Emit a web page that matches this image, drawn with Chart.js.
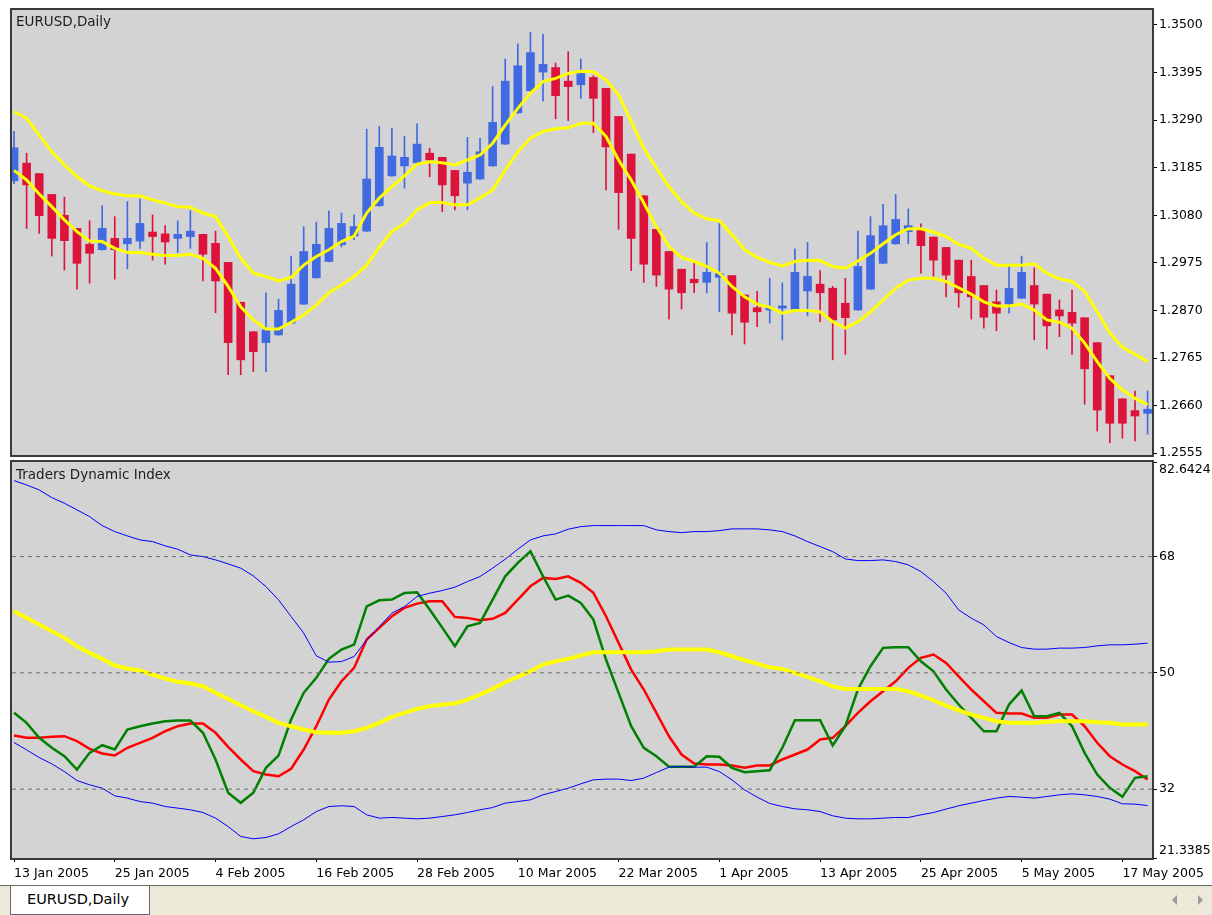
<!DOCTYPE html>
<html>
<head>
<meta charset="utf-8">
<title>EURUSD,Daily - Traders Dynamic Index</title>
<script src="https://cdn.jsdelivr.net/npm/chart.js@4.4.1/dist/chart.umd.min.js"></script>
<style>
  body { margin: 0; background: #fff; width: 1212px; height: 915px; overflow: hidden; position: relative; font-family: "DejaVu Sans", sans-serif; }
  canvas { position: absolute; left: 0; }
  #priceCanvas { top: 0; }
  #tdiCanvas { top: 458px; }
  .panel-title { position: absolute; left: 16px; font-size: 13.5px; color: #202020; }
  #tabBar { position: absolute; left: 0; top: 885px; width: 1212px; height: 30px; background: #ece9d8; border-top: 1px solid #6b6b6b; box-sizing: border-box; }
  #tab { position: absolute; left: 10px; top: 0; width: 140px; height: 29px; background: #fff; border: 1px solid #6b6b6b; border-top: none; box-sizing: border-box; font-size: 14.5px; line-height: 27px; padding-left: 16px; color: #000; }
  .arrow { position: absolute; top: 9px; width: 0; height: 0; border-top: 5px solid transparent; border-bottom: 5px solid transparent; }
  #arrowL { left: 1172px; border-right: 5px solid #9a9a9a; }
  #arrowR { left: 1198px; border-left: 5px solid #9a9a9a; }
</style>
</head>
<body>
<canvas id="priceCanvas" width="1212" height="458"></canvas>
<canvas id="tdiCanvas" width="1212" height="430"></canvas>
<div class="panel-title" style="top:13px;">EURUSD,Daily</div>
<div class="panel-title" style="top:466px;">Traders Dynamic Index</div>
<div id="tabBar"><div id="tab">EURUSD,Daily</div><div class="arrow" id="arrowL"></div><div class="arrow" id="arrowR"></div></div>
<script>
// one label every 8 daily bars, starting at the first bar (13 Jan 2005)
const dateLabels = ['13 Jan 2005', '25 Jan 2005', '4 Feb 2005', '16 Feb 2005', '28 Feb 2005', '10 Mar 2005',
  '22 Mar 2005', '1 Apr 2005', '13 Apr 2005', '25 Apr 2005', '5 May 2005', '17 May 2005'];
const barsPerLabel = 8;

const priceTicks = [1.2555, 1.2660, 1.2765, 1.2870, 1.2975, 1.3080, 1.3185, 1.3290, 1.3395, 1.3500];
const tdiTicks = [21.3385, 32, 50, 68, 82.6424];
const tdiLevels = [32, 50, 68];

const opens = [1.3156, 1.3195, 1.3172, 1.3126, 1.3080, 1.3051, 1.3016, 1.3004, 1.3029, 1.3017,
  1.3023, 1.3043, 1.3039, 1.3029, 1.3033, 1.3038, 1.3018, 1.2976, 1.2888, 1.2823,
  1.2799, 1.2816, 1.2842, 1.2884, 1.2942, 1.2978, 1.3015, 1.3034, 1.3045, 1.3101,
  1.3167, 1.3189, 1.3196, 1.3217, 1.3208, 1.3179, 1.3151, 1.3160, 1.3189, 1.3237,
  1.3306, 1.3355, 1.3396, 1.3406, 1.3376, 1.3368, 1.3384, 1.3360, 1.3298, 1.3215,
  1.3123, 1.3049, 1.3000, 1.2961, 1.2939, 1.2932, 1.2943, 1.2947, 1.2904, 1.2876,
  1.2871, 1.2875, 1.2873, 1.2913, 1.2928, 1.2919, 1.2886, 1.2871, 1.2917, 1.2974,
  1.3017, 1.3044, 1.3049, 1.3032, 1.3009, 1.2981, 1.2945, 1.2925, 1.2889, 1.2884,
  1.2897, 1.2925, 1.2906, 1.2871, 1.2866, 1.2854, 1.2799, 1.2726, 1.2675, 1.2649, 1.2643];
const highs = [1.3265, 1.3217, 1.3172, 1.3126, 1.3120, 1.3051, 1.3068, 1.3101, 1.3077, 1.3110,
  1.3116, 1.3081, 1.3057, 1.3068, 1.3090, 1.3038, 1.3045, 1.2976, 1.2888, 1.2823,
  1.2909, 1.2895, 1.2990, 1.3055, 1.3065, 1.3090, 1.3085, 1.3081, 1.3270, 1.3276,
  1.3272, 1.3254, 1.3282, 1.3228, 1.3208, 1.3179, 1.3252, 1.3250, 1.3364, 1.3425,
  1.3458, 1.3484, 1.3480, 1.3416, 1.3441, 1.3425, 1.3388, 1.3360, 1.3298, 1.3215,
  1.3123, 1.3049, 1.3000, 1.2961, 1.2976, 1.3020, 1.3062, 1.2947, 1.2904, 1.2912,
  1.2941, 1.2931, 1.3006, 1.3020, 1.2958, 1.2923, 1.2941, 1.3045, 1.3077, 1.3104,
  1.3126, 1.3094, 1.3061, 1.3032, 1.3009, 1.2981, 1.2981, 1.2925, 1.2915, 1.2968,
  1.2990, 1.2964, 1.2906, 1.2893, 1.2915, 1.2854, 1.2799, 1.2726, 1.2675, 1.2692, 1.2692];
const lows = [1.3150, 1.3051, 1.3040, 1.2990, 1.2959, 1.2917, 1.2930, 1.3003, 1.2939, 1.2962,
  1.3007, 1.2981, 1.2972, 1.2998, 1.3007, 1.2935, 1.2865, 1.2728, 1.2728, 1.2735,
  1.2735, 1.2815, 1.2841, 1.2883, 1.2941, 1.2977, 1.3010, 1.3026, 1.3044, 1.3100,
  1.3166, 1.3140, 1.3195, 1.3165, 1.3088, 1.3092, 1.3092, 1.3159, 1.3188, 1.3236,
  1.3305, 1.3354, 1.3332, 1.3293, 1.3289, 1.3338, 1.3262, 1.3136, 1.3049, 1.2958,
  1.2932, 1.2923, 1.2851, 1.2873, 1.2909, 1.2909, 1.2867, 1.2816, 1.2796, 1.2834,
  1.2842, 1.2805, 1.2872, 1.2858, 1.2845, 1.2761, 1.2773, 1.2870, 1.2916, 1.2973,
  1.3016, 1.3017, 1.2952, 1.2945, 1.2900, 1.2877, 1.2851, 1.2831, 1.2825, 1.2864,
  1.2896, 1.2805, 1.2785, 1.2812, 1.2773, 1.2663, 1.2604, 1.2578, 1.2588, 1.2582, 1.2597];
const closes = [1.3229, 1.3147, 1.3079, 1.3029, 1.3024, 1.2974, 1.2996, 1.3051, 1.3004, 1.3029,
  1.3062, 1.3033, 1.3021, 1.3038, 1.3045, 1.2994, 1.2935, 1.2799, 1.2761, 1.2779,
  1.2827, 1.2870, 1.2928, 1.3000, 1.3016, 1.3051, 1.3062, 1.3055, 1.3160, 1.3230,
  1.3211, 1.3208, 1.3237, 1.3202, 1.3147, 1.3123, 1.3175, 1.3220, 1.3285, 1.3376,
  1.3410, 1.3439, 1.3413, 1.3344, 1.3364, 1.3393, 1.3338, 1.3231, 1.3130, 1.3029,
  1.2972, 1.2948, 1.2917, 1.2909, 1.2931, 1.2954, 1.2951, 1.2864, 1.2844, 1.2867,
  1.2877, 1.2880, 1.2954, 1.2945, 1.2909, 1.2849, 1.2854, 1.2967, 1.3035, 1.3057,
  1.3071, 1.3057, 1.3013, 1.2981, 1.2948, 1.2909, 1.2900, 1.2855, 1.2864, 1.2919,
  1.2954, 1.2884, 1.2836, 1.2858, 1.2842, 1.2741, 1.2650, 1.2621, 1.2621, 1.2637, 1.2652];

// yellow envelope on the price panel
const bandUpper = [1.3309, 1.3294, 1.3257, 1.3220, 1.3191, 1.3165, 1.3145, 1.3134, 1.3127, 1.3123,
  1.3123, 1.3114, 1.3107, 1.3099, 1.3098, 1.3085, 1.3077, 1.3033, 1.2985, 1.2952,
  1.2945, 1.2935, 1.2943, 1.2970, 1.2989, 1.3004, 1.3022, 1.3034, 1.3085, 1.3118,
  1.3143, 1.3167, 1.3193, 1.3198, 1.3196, 1.3191, 1.3202, 1.3213, 1.3239, 1.3279,
  1.3316, 1.3349, 1.3375, 1.3382, 1.3393, 1.3398, 1.3397, 1.3379, 1.3346, 1.3287,
  1.3228, 1.3184, 1.3143, 1.3110, 1.3085, 1.3072, 1.3068, 1.3037, 1.3004, 1.2987,
  1.2976, 1.2968, 1.2978, 1.2981, 1.2980, 1.2967, 1.2963, 1.2979, 1.2996, 1.3017,
  1.3037, 1.3050, 1.3050, 1.3043, 1.3033, 1.3016, 1.3007, 1.2985, 1.2970, 1.2970,
  1.2970, 1.2973, 1.2952, 1.2940, 1.2934, 1.2912, 1.2867, 1.2820, 1.2789, 1.2773, 1.2757];
const bandLower = [1.3179, 1.3158, 1.3127, 1.3099, 1.3070, 1.3044, 1.3023, 1.3022, 1.3007, 1.2998,
  1.2998, 1.2994, 1.2991, 1.2991, 1.2994, 1.2985, 1.2963, 1.2923, 1.2878, 1.2849,
  1.2829, 1.2829, 1.2844, 1.2860, 1.2882, 1.2909, 1.2926, 1.2945, 1.2970, 1.3010,
  1.3044, 1.3062, 1.3092, 1.3108, 1.3108, 1.3103, 1.3103, 1.3118, 1.3136, 1.3180,
  1.3220, 1.3250, 1.3265, 1.3271, 1.3273, 1.3283, 1.3283, 1.3254, 1.3202, 1.3158,
  1.3107, 1.3055, 1.3011, 1.2987, 1.2978, 1.2967, 1.2952, 1.2923, 1.2900, 1.2884,
  1.2877, 1.2864, 1.2870, 1.2870, 1.2867, 1.2845, 1.2831, 1.2845, 1.2867, 1.2893,
  1.2919, 1.2937, 1.2941, 1.2941, 1.2934, 1.2920, 1.2906, 1.2889, 1.2880, 1.2880,
  1.2884, 1.2871, 1.2849, 1.2844, 1.2831, 1.2798, 1.2757, 1.2720, 1.2695, 1.2676, 1.2662];

// Traders Dynamic Index lines
const tdiUpper = [79.76, 79.09, 78.32, 77.13, 76.26, 75.23, 74.19, 72.80, 71.87, 71.20,
  70.58, 70.32, 69.66, 69.14, 68.26, 68.00, 67.49, 66.87, 66.21, 65.01,
  63.36, 61.30, 58.72, 56.15, 52.64, 51.66, 51.75, 52.53, 55.11, 57.17,
  59.24, 60.26, 61.81, 62.34, 62.74, 63.27, 64.13, 64.91, 66.21, 67.60,
  69.14, 70.58, 71.20, 71.51, 72.24, 72.64, 72.80, 72.80, 72.80, 72.80,
  72.80, 72.13, 71.87, 71.71, 71.87, 71.87, 72.02, 72.29, 72.29, 72.29,
  72.13, 71.87, 71.20, 70.32, 69.55, 68.77, 67.64, 67.38, 67.38, 67.49,
  67.23, 66.72, 65.68, 64.13, 62.34, 59.75, 58.47, 57.43, 55.62, 54.69,
  53.92, 53.67, 53.67, 53.83, 53.83, 53.92, 54.18, 54.34, 54.34, 54.44, 54.60];
const tdiLower = [39.21, 38.08, 36.89, 35.91, 34.72, 33.33, 32.67, 32.15, 30.96, 30.61,
  30.08, 29.83, 29.31, 29.06, 28.80, 28.38, 27.51, 26.21, 24.67, 24.31,
  24.51, 25.08, 26.21, 27.25, 28.53, 29.31, 29.42, 29.31, 28.02, 27.51,
  27.61, 27.51, 27.40, 27.51, 27.76, 28.02, 28.38, 28.80, 29.15, 29.83,
  30.08, 30.34, 31.12, 31.63, 32.15, 32.82, 33.44, 33.55, 33.55, 33.33,
  33.70, 34.57, 35.40, 35.50, 35.40, 35.40, 34.72, 33.44, 31.89, 30.76,
  29.78, 29.31, 28.95, 28.80, 28.53, 27.87, 27.51, 27.40, 27.40, 27.51,
  27.61, 27.61, 28.02, 28.38, 28.91, 29.42, 29.83, 30.24, 30.61, 30.86,
  30.76, 30.61, 30.86, 31.12, 31.27, 31.12, 30.86, 30.45, 29.73, 29.68, 29.46];
const tdiMid = [59.53, 58.51, 57.47, 56.44, 55.42, 54.12, 53.09, 52.17, 51.13, 50.67,
  50.36, 49.74, 49.12, 48.61, 48.34, 47.93, 46.91, 45.98, 44.99, 44.06,
  43.19, 42.26, 41.74, 41.23, 40.81, 40.72, 40.72, 40.96, 41.49, 42.26,
  43.19, 43.81, 44.43, 44.83, 45.09, 45.25, 45.86, 46.64, 47.52, 48.55,
  49.38, 50.25, 51.28, 51.79, 52.17, 52.68, 53.19, 53.19, 53.19, 53.19,
  53.19, 53.34, 53.61, 53.61, 53.61, 53.61, 53.19, 52.57, 51.95, 51.44,
  50.85, 50.62, 50.00, 49.38, 48.70, 47.93, 47.52, 47.52, 47.52, 47.52,
  47.52, 47.15, 46.49, 45.76, 44.94, 44.21, 43.55, 43.04, 42.51, 42.26,
  42.26, 42.26, 42.42, 42.51, 42.51, 42.51, 42.36, 42.26, 42.00, 42.00, 42.00];
const rsiPrice = [43.81, 42.26, 39.94, 38.40, 37.10, 35.04, 37.62, 38.80, 38.13, 41.23,
  41.74, 42.16, 42.51, 42.62, 42.62, 40.72, 36.59, 31.43, 29.88, 31.43,
  35.30, 37.20, 42.77, 46.91, 49.23, 52.17, 53.61, 54.38, 60.30, 61.23,
  61.34, 62.38, 62.47, 59.80, 57.00, 54.12, 57.21, 57.74, 61.34, 64.95,
  67.02, 68.81, 64.95, 61.34, 61.96, 60.83, 58.25, 52.06, 46.91, 41.74,
  38.40, 37.10, 35.46, 35.46, 35.46, 37.10, 37.00, 35.30, 34.62, 34.77,
  34.93, 38.40, 42.67, 42.67, 42.67, 38.75, 41.74, 47.42, 51.02, 53.87,
  53.96, 53.96, 51.79, 50.25, 47.42, 45.10, 43.04, 40.96, 40.96, 45.10,
  47.26, 43.29, 43.29, 43.81, 41.74, 37.62, 34.26, 32.20, 30.81, 33.75, 34.00];
const tradeSignal = [40.30, 39.94, 39.94, 40.10, 40.20, 39.42, 38.24, 37.51, 37.20, 38.40,
  39.17, 39.94, 40.96, 41.74, 42.16, 42.16, 40.72, 38.55, 36.59, 34.78,
  34.26, 34.00, 35.15, 38.13, 41.74, 45.87, 48.70, 50.77, 55.15, 56.96,
  58.75, 60.06, 60.72, 61.08, 61.08, 58.66, 58.51, 58.14, 58.36, 59.28,
  61.34, 63.40, 64.70, 64.54, 64.95, 63.93, 62.38, 58.76, 54.64, 50.51,
  47.42, 43.81, 40.19, 37.36, 35.97, 35.81, 35.81, 35.66, 35.30, 35.66,
  35.66, 36.59, 37.36, 38.13, 39.68, 39.94, 41.74, 43.81, 45.61, 47.15,
  48.70, 50.77, 52.32, 52.83, 51.55, 49.47, 47.42, 45.61, 43.81, 43.70,
  43.70, 43.04, 43.04, 43.55, 43.55, 41.74, 39.17, 37.10, 35.81, 34.78, 33.49];

// ---------------------------------------------------------------
const bullColor = '#4169e1';
const bearColor = '#dc143c';
const xMin = -0.16;
const xMax = 90.35;
const tickFont = { family: 'DejaVu Sans', size: 12.5 };

const toPoints = arr => arr.map((v, i) => ({ x: i, y: v }));
const candleColors = opens.map((o, i) => (closes[i] >= o ? bullColor : bearColor));

// grey plot background and dark frame, like the terminal window
const panelFrame = {
  id: 'panelFrame',
  beforeDraw(chart) {
    const { ctx, chartArea: a } = chart;
    ctx.save();
    ctx.fillStyle = '#d3d3d3';
    ctx.fillRect(a.left, a.top, a.right - a.left, a.bottom - a.top);
    ctx.restore();
  },
  afterDraw(chart) {
    const { ctx, chartArea: a } = chart;
    ctx.save();
    ctx.strokeStyle = '#3a3a3a';
    ctx.lineWidth = 2;
    ctx.strokeRect(a.left - 1, a.top - 1, a.right - a.left + 2, a.bottom - a.top + 2);
    ctx.restore();
  }
};

function rightAxis(min, max, ticks, label) {
  return {
    type: 'linear',
    position: 'right',
    min: min,
    max: max,
    // fixed axis width, and let end labels hang over the panel edge
    afterFit: axis => { axis.width = 60; axis.paddingTop = 0; axis.paddingBottom = 0; },
    afterBuildTicks: axis => { axis.ticks = ticks.map(v => ({ value: v })); },
    grid: { drawOnChartArea: false, drawTicks: true, tickLength: 5, color: '#000' },
    border: { display: false },
    ticks: { color: '#000', font: tickFont, padding: 2, callback: label }
  };
}

// price panel
new Chart(document.getElementById('priceCanvas'), {
  type: 'bar',
  data: {
    datasets: [
      { type: 'line', data: toPoints(bandUpper), borderColor: '#ffff00', borderWidth: 3, pointRadius: 0, tension: 0, order: 0 },
      { type: 'line', data: toPoints(bandLower), borderColor: '#ffff00', borderWidth: 3, pointRadius: 0, tension: 0, order: 0 },
      { type: 'bar', data: highs.map((h, i) => ({ x: i, y: [lows[i], h] })), backgroundColor: candleColors,
        barThickness: 1, grouped: false, borderWidth: 0, order: 2 },
      { type: 'bar', data: opens.map((o, i) => ({ x: i, y: [o, closes[i]] })), backgroundColor: candleColors,
        barThickness: 8, grouped: false, borderWidth: 0, minBarLength: 2, order: 1 }
    ]
  },
  options: {
    responsive: false,
    animation: false,
    layout: { padding: { left: 12, top: 10, right: 0, bottom: 3 } },
    plugins: { legend: { display: false }, tooltip: { enabled: false } },
    scales: {
      x: { type: 'linear', min: xMin, max: xMax, offset: false, display: false, grid: { offset: false } },
      y: rightAxis(1.2551, 1.3533, priceTicks, v => v.toFixed(4))
    }
  },
  plugins: [panelFrame]
});

// indicator panel
const levelSets = tdiLevels.map(lvl => ({
  data: [{ x: xMin, y: lvl }, { x: xMax, y: lvl }],
  borderColor: '#6e6e6e', borderWidth: 1, borderDash: [4, 4], pointRadius: 0
}));

new Chart(document.getElementById('tdiCanvas'), {
  type: 'line',
  data: {
    datasets: levelSets.concat([
      { data: toPoints(tdiMid), borderColor: '#ffff00', borderWidth: 4, pointRadius: 0, tension: 0 },
      { data: toPoints(tdiUpper), borderColor: '#0000ff', borderWidth: 1, pointRadius: 0, tension: 0 },
      { data: toPoints(tdiLower), borderColor: '#0000ff', borderWidth: 1, pointRadius: 0, tension: 0 },
      { data: toPoints(rsiPrice), borderColor: '#008000', borderWidth: 2.5, pointRadius: 0, tension: 0 },
      { data: toPoints(tradeSignal), borderColor: '#ff0000', borderWidth: 2.5, pointRadius: 0, tension: 0 }
    ])
  },
  options: {
    responsive: false,
    animation: false,
    layout: { padding: { left: 12, top: 4, right: 0, bottom: 0 } },
    plugins: { legend: { display: false }, tooltip: { enabled: false } },
    scales: {
      x: {
        type: 'linear', min: xMin, max: xMax, offset: false,
        afterFit: axis => { axis.height = 30; axis.paddingLeft = 0; axis.paddingRight = 0; },
        afterBuildTicks: axis => { axis.ticks = dateLabels.map((d, k) => ({ value: k * barsPerLabel })); },
        grid: { drawOnChartArea: false, drawTicks: true, tickLength: 4, color: '#000' },
        border: { display: false },
        ticks: { color: '#000', font: tickFont, align: 'start', padding: 4, autoSkip: false, maxRotation: 0, minRotation: 0,
          callback: (v, idx) => dateLabels[idx] }
      },
      y: rightAxis(21.3385, 82.6424, tdiTicks, v => {
        if (v === tdiTicks[tdiTicks.length - 1]) return ['', String(v)];
        if (v === tdiTicks[0]) return [String(v), ''];
        return String(v);
      })
    }
  },
  plugins: [panelFrame]
});
</script>
</body>
</html>
